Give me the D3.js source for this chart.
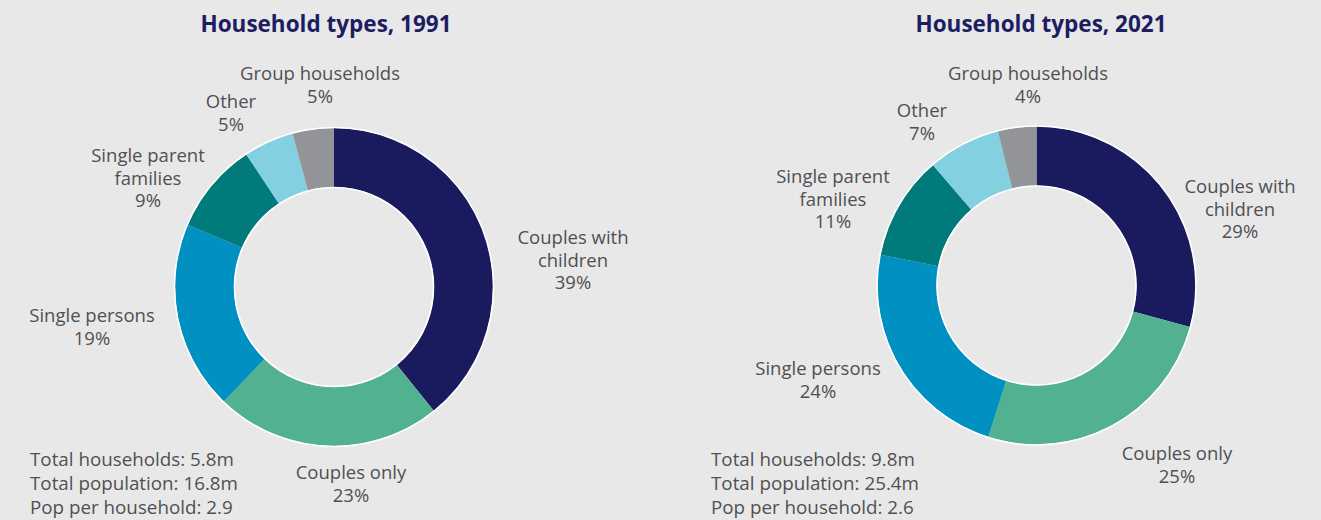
<!DOCTYPE html>
<html>
<head>
<meta charset="utf-8">
<script src="https://cdn.jsdelivr.net/npm/d3@7"></script>
<style>
	html,body{margin:0;padding:0;background:#e8e8e8;}
	svg{display:block;}
	text{font-family:"Open Sans",sans-serif;}
</style>
</head>
<body>
<svg id="chart" width="1321" height="520"></svg>
<script>
var categories=["Couples with children","Couples only","Single persons","Single parent families","Other","Group households"];
var colors=["#1a1b5e","#52b18f","#0190c2","#017a7c","#82d0e0","#939498"];

var share1991=[39.2,23.0,19.2,9.3,5.1,4.2];
var pct1991=["39%","23%","19%","9%","5%","5%"];
var stats1991=["Total households: 5.8m","Total population: 16.8m","Pop per household: 2.9"];

var share2021=[29.2,25.7,23.2,10.6,7.4,3.9];
var pct2021=["29%","25%","24%","11%","7%","4%"];
var stats2021=["Total households: 9.8m","Total population: 25.4m","Pop per household: 2.6"];

// label lines and where they sit, one per category
var lines=[["Couples with","children"],["Couples only"],["Single persons"],["Single parent","families"],["Other"],["Group households"]];
var labelPos1991=[[573,244],[351,479],[92,322],[148,162],[231,108],[320,80]];
var labelPos2021=[[1240,193],[1177,460],[818,375],[833,183],[922,117],[1028,80]];

var svg=d3.select("#chart");
var lineH=22.5;

function drawDonut(title,shares,pcts,stats,labelPos,cx,cy,titleX,statsX){
	var g=svg.append("g");
	var pie=d3.pie().sort(null).value(function(d){return d;});
	var arc=d3.arc().innerRadius(100).outerRadius(159);
	var ring=g.append("g").attr("transform","translate("+cx+","+cy+")");
	ring.selectAll("path").data(pie(shares)).enter().append("path")
		.attr("d",arc)
		.attr("fill",function(d,i){return colors[i];});
	//white rim on the outside and inside of the ring
	ring.append("circle").attr("r",159.5).attr("fill","none").attr("stroke","#fff").attr("stroke-width",1.6);
	ring.append("circle").attr("r",99.5).attr("fill","none").attr("stroke","#fff").attr("stroke-width",1.6);

	g.append("text").attr("x",titleX).attr("y",32).attr("text-anchor","middle")
		.attr("font-size",22.5).attr("font-weight",700).attr("fill","#1d1d63").text(title);

	categories.forEach(function(c,i){
		var t=g.append("text").attr("text-anchor","middle").attr("font-size",18.5).attr("fill","#505052");
		var rows=lines[i].concat([pcts[i]]);
		rows.forEach(function(r,j){
			t.append("tspan").attr("x",labelPos[i][0]).attr("y",labelPos[i][1]+j*lineH).text(r);
		});
	});

	stats.forEach(function(s,j){
		g.append("text").attr("x",statsX).attr("y",466+j*24).attr("font-size",18.8).attr("fill","#505052").text(s);
	});
}

drawDonut("Household types, 1991",share1991,pct1991,stats1991,labelPos1991,334,287,326,30);
drawDonut("Household types, 2021",share2021,pct2021,stats2021,labelPos2021,1036.5,285.5,1041,711);
</script>
</body>
</html>
